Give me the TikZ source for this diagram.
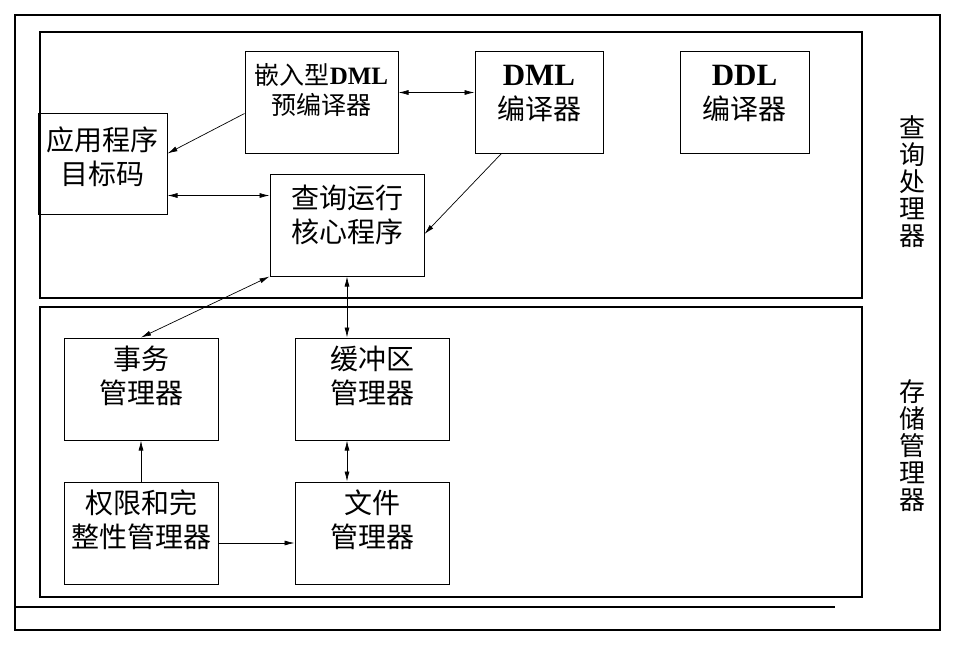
\documentclass[tikz,border=0pt]{standalone}
\usepackage{fontspec}
\setmainfont{Liberation Serif}
\newfontfamily\cjk{Noto Sans CJK SC}
\usetikzlibrary{arrows.meta,positioning}

\tikzset{
  frame/.style={line width=1.1pt},
  box/.style={draw, line width=1pt, minimum height=102pt, inner sep=0pt},
  txt/.style={anchor=north, align=center, inner sep=0pt,
    font=\cjk\fontsize{28}{34}\selectfont},
  side/.style={align=center, inner sep=0pt,
    font=\cjk\fontsize{26}{27}\selectfont},
  link/.style={line width=0.7pt, -{Latex[length=10pt,width=5pt]}},
  both/.style={line width=0.7pt, {Latex[length=10pt,width=5pt]}-{Latex[length=10pt,width=5pt]}}
}
\newcommand{\lat}[1]{\textrm{\bfseries #1}}
\newcommand{\latbig}[1]{\textrm{\bfseries\fontsize{31}{34}\selectfont #1}}

\begin{document}
\begin{tikzpicture}[x=1pt,y=-1pt]
  \useasboundingbox (0,0) rectangle (970,649);
  % Outer frames
  \draw[frame] (15,15) rectangle (940,630);
  \draw[frame] (15,607) -- (835,607);
  \draw[frame] (40,32) rectangle (862,298);
  \draw[frame] (40,307) rectangle (862,597);
  % Query processor
  \node[box, minimum width=153pt,
    label={[txt,yshift=-12pt,font=\cjk\fontsize{25}{30}\selectfont]north:嵌入型\lat{DML}\\预编译器}]
    (embed) at (321.5,102.5) {};
  \node[box, minimum width=128pt,
    label={[txt,yshift=-14pt]north:\latbig{DML}\\编译器}] (dml) at (539,102.5) {};
  \node[box, minimum width=129pt,
    label={[txt,yshift=-14pt]north:\latbig{DDL}\\编译器}] (ddl) at (744.5,102.5) {};
  \node[box, minimum width=129pt, minimum height=101pt,
    label={[txt,yshift=-14pt]north:应用程序\\目标码}] (app) at (102.5,163.5) {};
  \node[box, minimum width=154pt,
    label={[txt,yshift=-11pt]north:查询运行\\核心程序}] (qrun) at (347,225) {};
  % Storage manager
  \node[box, minimum width=154pt,
    label={[txt,yshift=-8pt]north:事务\\管理器}] (txn) at (141,389) {};
  \node[box, minimum width=154pt,
    label={[txt,yshift=-8pt]north:缓冲区\\管理器}] (buf) at (372,389) {};
  \node[box, minimum width=154pt,
    label={[txt,yshift=-8pt]north:权限和完\\整性管理器}] (auth) at (141,533) {};
  \node[box, minimum width=154pt,
    label={[txt,yshift=-8pt]north:文件\\管理器}] (file) at (372,533) {};
  % Side titles
  \node[side] (qlabel) at (912,182) {查\\询\\处\\理\\器};
  \node[side] (slabel) at (912,446) {存\\储\\管\\理\\器};
  % Connectors
  \draw[link] ([yshift=-11pt]embed.west) -- ([yshift=10pt]app.east);
  \draw[both] ([yshift=10pt]embed.east) -- ([yshift=10pt]dml.west);
  \draw[link] ([xshift=-38pt]dml.south) -- ([yshift=-9pt]qrun.east);
  \draw[both] ([yshift=-32pt]app.east) -- ([yshift=-32pt]app.east -| qrun.west);
  \draw[both] (qrun.south west) -- (txn.north);
  \draw[both] (qrun.south) -- (qrun.south |- buf.north);
  \draw[link] (auth.north) -- (txn.south);
  \draw[both] (qrun.south |- buf.south) -- (qrun.south |- file.north);
  \draw[link] ([yshift=-10pt]auth.east) -- ([yshift=-10pt]auth.east -| file.west);
\end{tikzpicture}
\end{document}
